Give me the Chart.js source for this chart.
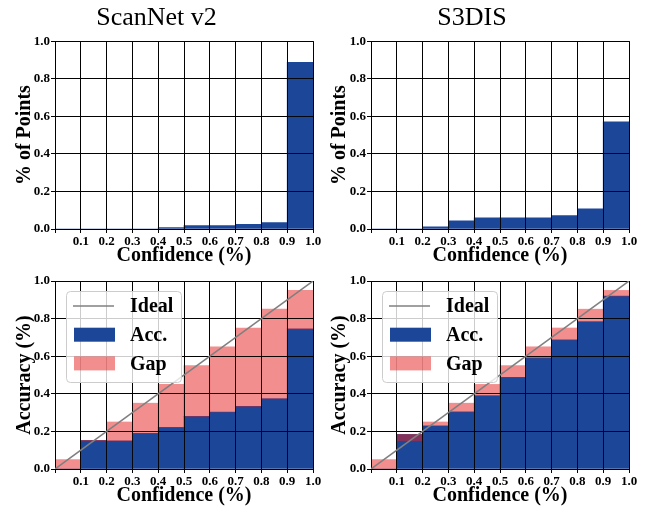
<!DOCTYPE html>
<html>
<head>
<meta charset="utf-8">
<script src="https://cdn.jsdelivr.net/npm/chart.js@4.4.1/dist/chart.umd.min.js"></script>
<style>
  html, body { margin: 0; padding: 0; background: #fff; width: 650px; height: 508px; overflow: hidden; }
  canvas { position: absolute; }
</style>
</head>
<body>
<canvas id="c1" width="342" height="268" style="left:0px;top:0px;width:342px;height:268px"></canvas>
<canvas id="c2" width="342" height="268" style="left:315px;top:0px;width:342px;height:268px"></canvas>
<canvas id="c3" width="342" height="236" style="left:0px;top:272px;width:342px;height:236px"></canvas>
<canvas id="c4" width="342" height="236" style="left:315px;top:272px;width:342px;height:236px"></canvas>
<script>
// ---------------- data ----------------
const panelTitles = ['ScanNet v2', 'S3DIS'];
const binCenters = [0.05, 0.15, 0.25, 0.35, 0.45, 0.55, 0.65, 0.75, 0.85, 0.95];
const xTickValues = [0.0, 0.1, 0.2, 0.3, 0.4, 0.5, 0.6, 0.7, 0.8, 0.9, 1.0];
const xTickLabels = ['', '0.1', '0.2', '0.3', '0.4', '0.5', '0.6', '0.7', '0.8', '0.9', '1.0'];
const yTickValues = [0.0, 0.2, 0.4, 0.6, 0.8, 1.0];
const yTickLabels = ['0.0', '0.2', '0.4', '0.6', '0.8', '1.0'];

// % of points per confidence bin
const scannetPoints = [0, 0, 0, 0, 0.007, 0.018, 0.018, 0.025, 0.034, 0.888];
const s3disPoints   = [0, 0, 0.012, 0.044, 0.060, 0.060, 0.060, 0.071, 0.108, 0.570];

// accuracy per confidence bin
const scannetAcc = [0, 0.152, 0.150, 0.190, 0.221, 0.280, 0.303, 0.333, 0.375, 0.745];
const s3disAcc   = [0, 0.184, 0.230, 0.304, 0.391, 0.488, 0.591, 0.687, 0.784, 0.920];
// expected (bin-centre) confidence = top of gap bars
const expectedConf = [0.05, 0.15, 0.25, 0.35, 0.45, 0.55, 0.65, 0.75, 0.85, 0.95];

// ideal diagonal
const idealX = [0, 1];
const idealY = [0, 1];

// ---------------- style ----------------
const FONT = "'Liberation Serif', 'Times New Roman', Times, serif";
Chart.defaults.font.family = FONT;
Chart.defaults.color = '#000';
const BLUE = 'rgb(28,71,153)';
const GAP = 'rgba(232,30,30,0.5)';
const GRID = 'rgba(0,0,0,0.9)';

function drawGrids(chart) {
  const ca = chart.chartArea;
  ['x', 'y'].forEach(id => chart.scales[id].drawGrid(ca));
}
const gridOnTop = {
  id: 'gridOnTop',
  beforeDatasetDraw(chart, args) {
    if (args.meta.type === 'line') drawGrids(chart);
  },
  afterDatasetsDraw(chart) {
    if (!chart.data.datasets.some(d => d.type === 'line')) drawGrids(chart);
  }
};

const boxLegend = {
  id: 'boxLegend',
  afterDraw(chart, args, opts) {
    if (!opts || !opts.show) return;
    const ctx = chart.ctx;
    const ca = chart.chartArea;
    const x = ca.left + 11, y = ca.top + 10, w = 115, h = 91, r = 4;
    ctx.save();
    ctx.beginPath();
    ctx.roundRect(x + 0.5, y + 0.5, w, h, r);
    ctx.fillStyle = 'rgba(255,255,255,0.8)';
    ctx.fill();
    ctx.strokeStyle = '#cccccc';
    ctx.lineWidth = 1;
    ctx.stroke();
    const order = opts.order; // dataset indices in legend order
    ctx.font = 'bold 20px ' + FONT;
    ctx.textBaseline = 'middle';
    ctx.textAlign = 'left';
    order.forEach((di, k) => {
      const ds = chart.data.datasets[di];
      const cy = y + 15 + k * 28.7;
      if (ds.type === 'line') {
        ctx.beginPath();
        ctx.moveTo(x + 7, cy);
        ctx.lineTo(x + 48, cy);
        ctx.strokeStyle = ds.borderColor;
        ctx.lineWidth = ds.borderWidth;
        ctx.stroke();
      } else {
        ctx.fillStyle = ds.backgroundColor;
        ctx.fillRect(x + 8, cy - 7, 41, 14);
      }
      ctx.fillStyle = '#000';
      ctx.fillText(ds.label, x + 64, cy + 1);
    });
    ctx.restore();
  }
};

function scalesFor(yTitle, yWidth) {
  return {
    x: {
      type: 'linear', min: 0, max: 1, offset: false,
      afterBuildTicks: s => { s.ticks = xTickValues.map(v => ({ value: v })); },
      afterFit: s => { s.height = 39; },
      ticks: {
        autoSkip: false, maxRotation: 0, minRotation: 0, padding: 1,
        font: { size: 13, weight: 'bold' },
        callback: (v, i) => xTickLabels[i]
      },
      grid: { color: GRID, lineWidth: 1, tickLength: 4, offset: false, drawTicks: true },
      border: { display: true, color: '#000', width: 1 },
      title: { display: true, text: 'Confidence (%)', font: { size: 20, weight: 'bold' }, padding: { top: 0, bottom: 0 } }
    },
    y: {
      type: 'linear', min: 0, max: 1,
      afterBuildTicks: s => { s.ticks = yTickValues.map(v => ({ value: v })); },
      afterFit: s => { s.width = yWidth; },
      ticks: {
        padding: 1, font: { size: 13, weight: 'bold' },
        callback: (v, i) => yTickLabels[i]
      },
      grid: { color: GRID, lineWidth: 1, tickLength: 4, drawTicks: true },
      border: { display: true, color: '#000', width: 1 },
      title: { display: true, text: yTitle, font: { size: 20, weight: 'bold' }, padding: { top: 13, bottom: 0 } }
    }
  };
}

function topPanel(id, title, values, yWidth, padRight) {
  return new Chart(document.getElementById(id), {
    type: 'bar',
    data: {
      datasets: [{
        label: '% of Points',
        data: binCenters.map((c, i) => ({ x: c, y: values[i] })),
        backgroundColor: BLUE, borderWidth: 0,
        barPercentage: 1, categoryPercentage: 1
      }]
    },
    options: {
      responsive: false, animation: false, events: [],
      layout: { padding: { top: 0, right: padRight, left: 0, bottom: 0 } },
      plugins: {
        legend: { display: false }, tooltip: { enabled: false },
        title: { display: true, text: title, font: { size: 26, weight: 'normal' }, color: '#000', padding: { top: 3, bottom: 7 } }
      },
      scales: scalesFor('% of Points', yWidth)
    },
    plugins: [gridOnTop]
  });
}

function bottomPanel(id, acc, yWidth, padRight) {
  return new Chart(document.getElementById(id), {
    type: 'bar',
    data: {
      datasets: [
        {
          type: 'line', label: 'Ideal',
          data: idealX.map((x, i) => ({ x: x, y: idealY[i] })),
          borderColor: 'rgb(128,128,128)', borderWidth: 1.5, pointRadius: 0, fill: false, order: 0
        },
        {
          label: 'Acc.',
          data: binCenters.map((c, i) => ({ x: c, y: acc[i] })),
          backgroundColor: BLUE, borderWidth: 0, grouped: false,
          barPercentage: 1, categoryPercentage: 1, order: 2
        },
        {
          label: 'Gap',
          data: binCenters.map((c, i) => ({ x: c, y: [acc[i], expectedConf[i]] })),
          backgroundColor: GAP, borderWidth: 0, grouped: false,
          barPercentage: 1, categoryPercentage: 1, order: 1
        }
      ]
    },
    options: {
      responsive: false, animation: false, events: [],
      layout: { padding: { top: 9, right: padRight, left: 0, bottom: 0 } },
      plugins: {
        legend: { display: false }, tooltip: { enabled: false },
        boxLegend: { show: true, order: [0, 1, 2] }
      },
      scales: scalesFor('Accuracy (%)', yWidth)
    },
    plugins: [gridOnTop, boxLegend]
  });
}

topPanel('c1', panelTitles[0], scannetPoints, 55, 29);
topPanel('c2', panelTitles[1], s3disPoints, 56, 28);
bottomPanel('c3', scannetAcc, 55, 29);
bottomPanel('c4', s3disAcc, 56, 28);
</script>
</body>
</html>
